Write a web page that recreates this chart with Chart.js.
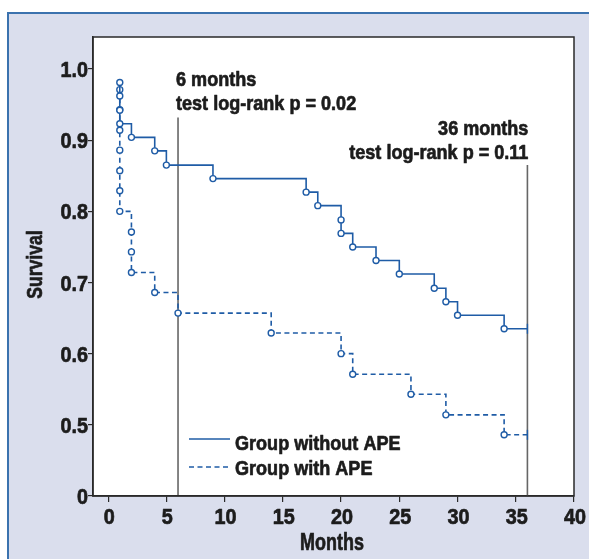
<!DOCTYPE html>
<html>
<head>
<meta charset="utf-8">
<script src="https://cdn.jsdelivr.net/npm/chart.js@4/dist/chart.umd.min.js"></script>
<style>
  html, body { margin:0; padding:0; background:#ffffff; }
  #wrap { position:relative; width:589px; height:559px; overflow:hidden; }
  #panel { position:absolute; left:7px; top:12px; width:582px; height:547px; background:#dadeed;
           border-top:2px solid #3b72ae; border-left:2px solid #3b72ae; box-sizing:border-box; }
  #c { position:absolute; left:0; top:0; }
</style>
</head>
<body>
<div id="wrap">
  <div id="panel"></div>
  <canvas id="c" width="589" height="559"></canvas>
</div>
<script>
// Kaplan-Meier data
const withoutTimes = [1, 1, 1, 1, 2, 4, 5, 9, 17, 18, 20, 20, 21, 23, 25, 28, 29, 30, 34, 36];
const withoutSurv  = [0.981, 0.962, 0.942, 0.923, 0.904, 0.885, 0.865, 0.846, 0.827, 0.808, 0.788, 0.769, 0.750, 0.731, 0.712, 0.692, 0.673, 0.654, 0.635, 0.635];
const withTimes = [1, 1, 1, 1, 1, 1, 1, 2, 2, 2, 4, 6, 14, 20, 21, 26, 29, 34, 36];
const withSurv  = [0.971, 0.943, 0.914, 0.886, 0.857, 0.829, 0.800, 0.771, 0.743, 0.714, 0.686, 0.657, 0.629, 0.600, 0.571, 0.543, 0.514, 0.486, 0.486];
const xTicks = [0, 5, 10, 15, 20, 25, 30, 35, 40];
const yTicks = [0.4, 0.5, 0.6, 0.7, 0.8, 0.9, 1.0];
const yTickLabels = ['0', '0.5', '0.6', '0.7', '0.8', '0.9', '1.0'];
const refTimes = [6, 36];
const refTops = [0.932, 0.865];
const annotations = [
  ["6 months", "test log-rank p = 0.02"],
  ["36 months", "test log-rank p = 0.11"]
];
const seriesNames = ["Group without APE", "Group with APE"];
const xTitle = 'Months';
const yTitle = 'Survival';

const FONT = "'Liberation Sans', Arial, sans-serif";
const BLUE = '#1f5ca6';
const INK = '#1c1c1c';
const SX = 0.86; // horizontal condensing of the bold sans face

function pts(ts, ss) { return ts.map((t, i) => ({ x: t, y: ss[i] })); }
function styles(n) { return Array.from({ length: n }, (_, i) => i === n - 1 ? 'line' : 'circle'); }
function rots(n) { return Array.from({ length: n }, (_, i) => i === n - 1 ? 90 : 0); }
function radii(n) { return Array.from({ length: n }, (_, i) => i === n - 1 ? 5 : 3); }

const datasets = [
  {
    label: seriesNames[0], data: pts(withoutTimes, withoutSurv), stepped: 'before',
    borderColor: BLUE, borderWidth: 1.6, backgroundColor: '#ffffff',
    pointStyle: styles(withoutTimes.length), pointRotation: rots(withoutTimes.length),
    pointRadius: radii(withoutTimes.length),
    pointBorderColor: BLUE, pointBorderWidth: 1.4, pointBackgroundColor: '#ffffff'
  },
  {
    label: seriesNames[1], data: pts(withTimes, withSurv), stepped: 'before',
    borderColor: BLUE, borderWidth: 1.6, borderDash: [5, 3.5], backgroundColor: '#ffffff',
    pointStyle: styles(withTimes.length), pointRotation: rots(withTimes.length),
    pointRadius: radii(withTimes.length),
    pointBorderColor: BLUE, pointBorderWidth: 1.4, pointBackgroundColor: '#ffffff'
  }
];
refTimes.forEach((t, i) => {
  datasets.push({
    label: 'ref' + i, data: [{ x: t, y: 0.4 }, { x: t, y: refTops[i] }],
    borderColor: i === 0 ? '#333333' : '#666666', borderWidth: i === 0 ? 1.2 : 1.6,
    pointRadius: 0, order: 5
  });
});

function txt(ctx, s, x, y, size, align, sx, rotate) {
  ctx.save();
  ctx.translate(x, y);
  if (rotate) ctx.rotate(-Math.PI / 2);
  ctx.scale(sx, 1);
  ctx.font = 'bold ' + size + 'px ' + FONT;
  ctx.fillStyle = INK;
  ctx.strokeStyle = INK;
  ctx.lineWidth = 0.7;
  ctx.lineJoin = 'round';
  ctx.textAlign = align;
  ctx.textBaseline = 'alphabetic';
  ctx.fillText(s, 0, 0);
  ctx.strokeText(s, 0, 0);
  ctx.restore();
}

const deco = {
  id: 'deco',
  beforeDraw(chart) {
    const { ctx, chartArea: a } = chart;
    ctx.save();
    ctx.fillStyle = '#ffffff';
    ctx.fillRect(a.left, a.top, a.right - a.left, a.bottom - a.top);
    ctx.restore();
  },
  afterDraw(chart) {
    const { ctx, chartArea: a, scales } = chart;
    const xs = scales.x, ys = scales.y;
    ctx.save();
    ctx.strokeStyle = '#2a2a2a';
    ctx.lineWidth = 1.5;
    ctx.strokeRect(a.left, a.top, a.right - a.left, a.bottom - a.top);
    ctx.restore();

    // tick labels
    yTicks.forEach((v, i) => txt(ctx, yTickLabels[i], a.left - 5, ys.getPixelForValue(v) + 8, 22.5, 'right', 0.88));
    xTicks.forEach(v => txt(ctx, String(v), xs.getPixelForValue(v) + 1, 524, 22.5, 'center', 0.88));
    // axis titles
    txt(ctx, xTitle, 332, 550, 23, 'center', 0.78);
    txt(ctx, yTitle, 42, (a.top + a.bottom) / 2 - 2, 22.5, 'center', 0.78, true);

    // annotations
    const x6 = xs.getPixelForValue(refTimes[0]) - 2;
    txt(ctx, annotations[0][0], x6, 86, 21, 'left', SX);
    txt(ctx, annotations[0][1], x6, 110, 21, 'left', SX);
    const x36 = xs.getPixelForValue(refTimes[1]) + 1;
    txt(ctx, annotations[1][0], x36, 135, 21, 'right', SX);
    txt(ctx, annotations[1][1], x36, 159, 21, 'right', SX);

    // legend
    ctx.save();
    ctx.strokeStyle = BLUE;
    ctx.lineWidth = 1.6;
    const ly = [439, 467];
    const lb = [450, 475];
    ly.forEach((y, i) => {
      ctx.save();
      ctx.strokeStyle = BLUE;
      ctx.lineWidth = 1.6;
      ctx.setLineDash(i === 0 ? [] : [5, 3.5]);
      ctx.beginPath(); ctx.moveTo(189, y); ctx.lineTo(230, y); ctx.stroke();
      ctx.restore();
      txt(ctx, seriesNames[i], 235, lb[i], 21, 'left', SX);
    });
    ctx.restore();
  }
};

new Chart(document.getElementById('c'), {
  type: 'line',
  data: { datasets },
  options: {
    responsive: false, animation: false, devicePixelRatio: 1,
    layout: { padding: { top: 37, right: 15, left: 0, bottom: 0 } },
    plugins: { legend: { display: false }, tooltip: { enabled: false } },
    scales: {
      x: {
        type: 'linear', min: -1.3, max: 40,
        afterBuildTicks: s => { s.ticks = xTicks.map(v => ({ value: v })); },
        afterFit: s => { s.height = 63; },
        grid: { drawOnChartArea: false, tickLength: 6, color: '#2a2a2a', lineWidth: 1.2 },
        border: { color: '#2a2a2a', width: 1.5 },
        ticks: { display: false },
        title: { display: false }
      },
      y: {
        type: 'linear', min: 0.4, max: 1.045,
        afterBuildTicks: s => { s.ticks = yTicks.map(v => ({ value: v })); },
        afterFit: s => { s.width = 93; },
        grid: { drawOnChartArea: false, tickLength: 5, color: '#2a2a2a', lineWidth: 1.2 },
        border: { color: '#2a2a2a', width: 1.5 },
        ticks: { display: false },
        title: { display: false }
      }
    }
  },
  plugins: [deco]
});
</script>
</body>
</html>
